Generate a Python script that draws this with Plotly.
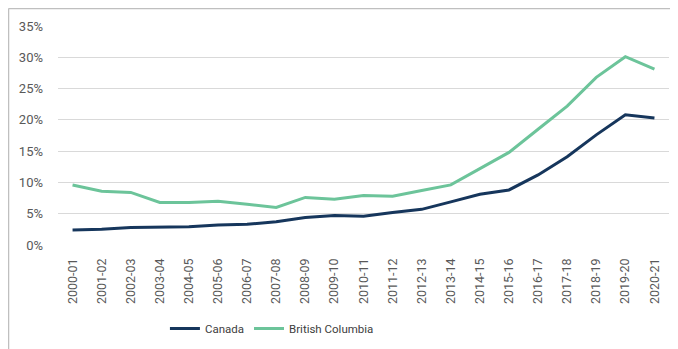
import plotly.graph_objects as go

years = ["2000-01", "2001-02", "2002-03", "2003-04", "2004-05", "2005-06", "2006-07",
         "2007-08", "2008-09", "2009-10", "2010-11", "2011-12", "2012-13", "2013-14",
         "2014-15", "2015-16", "2016-17", "2017-18", "2018-19", "2019-20", "2020-21"]
canada = [2.4, 2.5, 2.8, 2.9, 2.9, 3.2, 3.3, 3.7, 4.4, 4.7, 4.6, 5.2, 5.7, 6.9,
          8.1, 8.8, 11.2, 14.1, 17.6, 20.8, 20.3]
bc = [9.6, 8.6, 8.4, 6.8, 6.8, 7.0, 6.5, 6.0, 7.6, 7.3, 7.9, 7.8, 8.7, 9.6,
      12.2, 14.8, 18.5, 22.2, 26.8, 30.1, 28.1]
yticks = [0, 5, 10, 15, 20, 25, 30, 35]

fig = go.Figure()
fig.add_trace(go.Scatter(x=years, y=canada, name="Canada", mode="lines",
                         line=dict(color="#16365c", width=3)))
fig.add_trace(go.Scatter(x=years, y=bc, name="British Columbia", mode="lines",
                         line=dict(color="#6cc49a", width=3)))

fig.update_layout(
    width=678, height=349,
    margin=dict(l=50, r=17, t=18, b=112, autoexpand=False),
    paper_bgcolor="white", plot_bgcolor="white",
    font=dict(family="Roboto", size=12, color="#595959"),
    showlegend=True,
    legend=dict(orientation="h", x=0.175, xanchor="left", y=-0.315, yanchor="top",
                font=dict(family="Roboto", size=11.5, color="#404040")),
)
fig.update_xaxes(type="category", range=[-0.5, len(years) - 0.5], tickangle=-90,
                 showgrid=False, showline=False, ticks="",
                 tickfont=dict(family="Roboto", size=12.5, color="#595959"),
                 automargin=False, ticklabelstandoff=10)
fig.update_yaxes(range=[0, 35], tickvals=yticks, ticktext=[f"{v}%" for v in yticks],
                 showgrid=True, gridcolor="#d9d9d9", gridwidth=1, zeroline=False,
                 showline=False, ticks="",
                 tickfont=dict(family="Roboto", size=13, color="#595959"),
                 ticklabelstandoff=14, automargin=False)

# outer frame (cropped chart border)
fig.add_shape(type="line", xref="paper", yref="paper", x0=-0.081, x1=1.05,
              y0=1.08, y1=1.08, line=dict(color="#bfbfbf", width=1.5))
fig.add_shape(type="line", xref="paper", yref="paper", x0=-0.081, x1=-0.081,
              y0=1.08, y1=-0.6, line=dict(color="#bfbfbf", width=1.5))

fig.write_html("out.html")
